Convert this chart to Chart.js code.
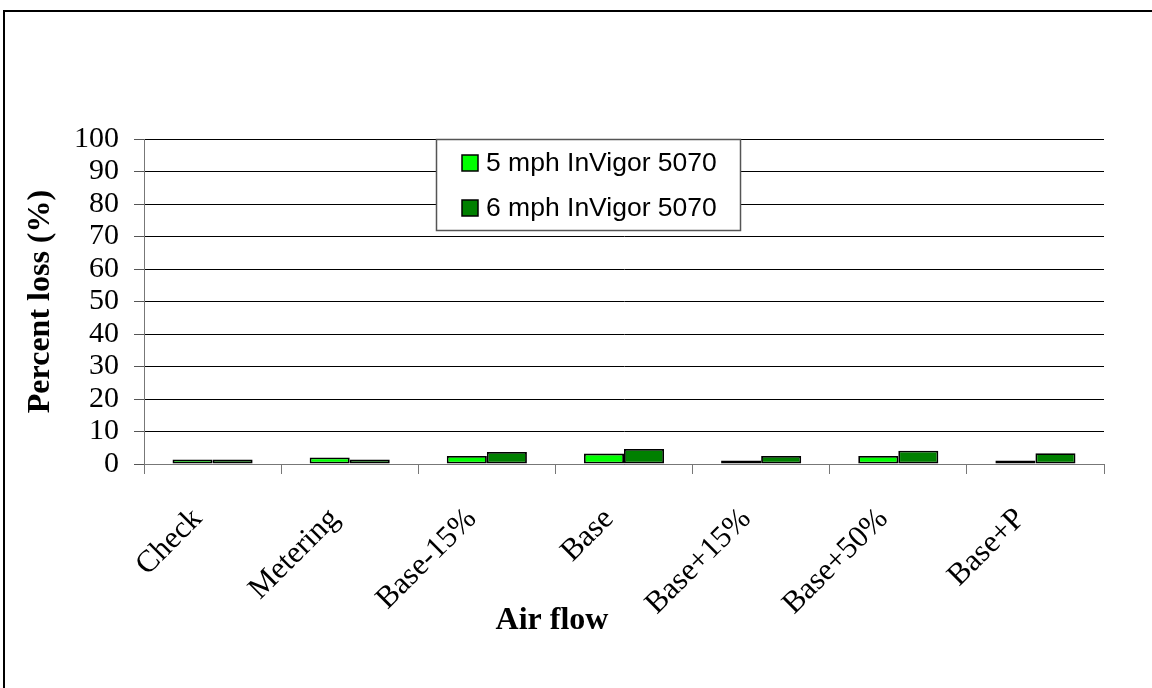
<!DOCTYPE html>
<html>
<head>
<meta charset="utf-8">
<title>Percent loss by air flow</title>
<script src="https://cdn.jsdelivr.net/npm/chart.js@4.4.1/dist/chart.umd.min.js"></script>
<style>
    html, body { margin: 0; padding: 0; background: #fff; }
    #wrap { position: relative; width: 1152px; height: 688px; overflow: hidden; }
    #frame { position: absolute; left: 3px; top: 10px; width: 1160px; height: 700px; border: 2px solid #000; pointer-events: none; }
    #chart { position: absolute; left: 0; top: 0; }
</style>
</head>
<body>
<div id="wrap">
    <canvas id="chart" width="1152" height="688"></canvas>
    <div id="frame"></div>
</div>
<script>
const airFlow = ['Check', 'Metering', 'Base-15%', 'Base', 'Base+15%', 'Base+50%', 'Base+P'];
const loss5mph = [1.4, 2.0, 2.5, 3.2, 1.1, 2.5, 1.1];
const loss6mph = [1.4, 1.4, 3.7, 4.6, 2.5, 4.1, 3.3];
const seriesNames = ['5 mph InVigor 5070', '6 mph InVigor 5070'];
const seriesColors = ['#00ff00', '#008000'];
const yMin = 0;
const yMax = 100;
const yStep = 10;

const serif = "'Liberation Serif', 'Times New Roman', serif";
const sans = "'Liberation Sans', Arial, sans-serif";

// legend box sitting inside the plot, with a grey border like the original
const boxLegend = {
    id: 'boxLegend',
    afterDatasetsDraw(chart, args, opts) {
        const { ctx, chartArea } = chart;
        const left = chartArea.left + opts.left;
        const top = chartArea.top + opts.top;

        ctx.save();
        ctx.fillStyle = '#fff';
        ctx.fillRect(left, top, opts.width, opts.height);
        ctx.strokeStyle = '#555';
        ctx.lineWidth = 1.5;
        ctx.strokeRect(left + 0.5, top + 0.5, opts.width, opts.height);

        ctx.font = opts.fontSize + 'px ' + sans;
        ctx.textBaseline = 'middle';
        ctx.textAlign = 'left';
        chart.data.datasets.forEach((ds, i) => {
            const cy = top + opts.rowTop + i * opts.rowGap;
            ctx.fillStyle = ds.backgroundColor;
            ctx.fillRect(left + opts.swatchX, cy - 8, 16, 16);
            ctx.strokeStyle = '#000';
            ctx.lineWidth = 1.5;
            ctx.strokeRect(left + opts.swatchX, cy - 8, 16, 16);
            ctx.fillStyle = '#000';
            ctx.fillText(ds.label, left + opts.textX, cy + 1);
        });
        ctx.restore();
    }
};

// x axis title sits a bit left of centre, in between the slanted labels
const xTitle = {
    id: 'xTitle',
    afterDraw(chart, args, opts) {
        const { ctx, chartArea } = chart;
        ctx.save();
        ctx.font = 'bold ' + opts.size + 'px ' + serif;
        ctx.fillStyle = '#000';
        ctx.textAlign = 'center';
        ctx.textBaseline = 'alphabetic';
        ctx.fillText(opts.text, chartArea.left + opts.dx, chartArea.bottom + opts.dy);
        ctx.restore();
    }
};

const ctx = document.getElementById('chart').getContext('2d');

new Chart(ctx, {
    type: 'bar',
    data: {
        labels: airFlow,
        datasets: [
            {
                label: seriesNames[0],
                data: loss5mph,
                backgroundColor: seriesColors[0],
                borderColor: '#000',
                borderWidth: 1.8,
                borderSkipped: false
            },
            {
                label: seriesNames[1],
                data: loss6mph,
                backgroundColor: seriesColors[1],
                borderColor: '#000',
                borderWidth: 1.8,
                borderSkipped: false
            }
        ]
    },
    options: {
        responsive: false,
        animation: false,
        categoryPercentage: 0.584,
        barPercentage: 1.0,
        layout: {
            padding: { top: 139, right: 48, left: 0, bottom: 0 }
        },
        plugins: {
            legend: { display: false },
            tooltip: { enabled: false },
            boxLegend: {
                left: 292, top: 0, width: 304, height: 91,
                swatchX: 26, textX: 50, rowTop: 24, rowGap: 45, fontSize: 26.5
            },
            xTitle: { text: 'Air flow', size: 32, dx: 408, dy: 165 }
        },
        scales: {
            x: {
                afterFit: scale => { scale.height = 224; },
                grid: {
                    drawOnChartArea: false,
                    drawTicks: true,
                    tickLength: 10,
                    tickColor: '#777'
                },
                border: { color: '#777', width: 1 },
                ticks: {
                    color: '#000',
                    font: { family: serif, size: 31 },
                    minRotation: 45,
                    maxRotation: 45,
                    padding: 27,
                    labelOffset: -15
                }
            },
            y: {
                min: yMin,
                max: yMax,
                afterFit: scale => { scale.width = 144; },
                grid: {
                    color: '#000',
                    lineWidth: 1,
                    tickLength: 10,
                    tickColor: '#555'
                },
                border: { color: '#777', width: 1 },
                ticks: {
                    stepSize: yStep,
                    autoSkip: false,
                    color: '#000',
                    font: { family: serif, size: 30 },
                    padding: 15
                },
                title: {
                    display: true,
                    text: 'Percent loss (%)',
                    color: '#000',
                    font: { family: serif, size: 32, weight: 'bold' },
                    padding: { top: 22, bottom: 0 }
                }
            }
        }
    },
    plugins: [boxLegend, xTitle]
});
</script>
</body>
</html>
